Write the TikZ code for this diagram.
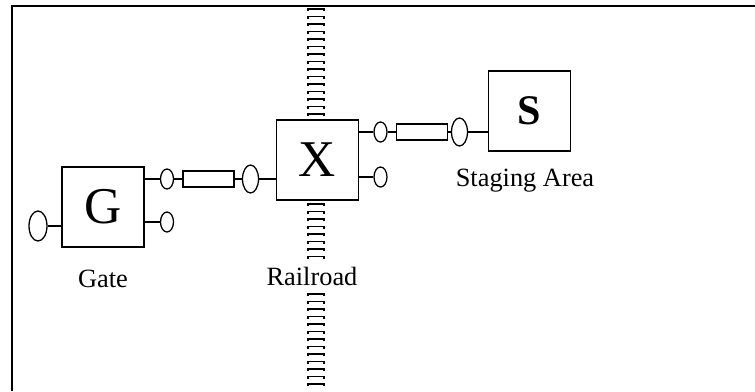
\documentclass[tikz,border=0pt]{standalone}
\usepackage{fontspec}
\setmainfont{Liberation Serif}
\usetikzlibrary{positioning, shapes.geometric, calc}

\begin{document}
\begin{tikzpicture}[
    x=0.03cm, y=-0.03cm,
    node_box/.style={rectangle, draw=black, line width=1.3pt, minimum width=2.45cm, minimum height=2.4cm, inner sep=0pt, font=\fontsize{44}{44}\selectfont},
    port_small/.style={ellipse, draw=black, line width=1.1pt, minimum width=0.39cm, minimum height=0.6cm, inner sep=0pt},
    port_big/.style={ellipse, draw=black, line width=1.1pt, minimum width=0.48cm, minimum height=0.84cm, inner sep=0pt},
    node_link/.style={rectangle, draw=black, line width=1.1pt, minimum width=1.53cm, minimum height=0.48cm, inner sep=0pt},
    node_label/.style={font=\fontsize{22.5}{22.5}\selectfont},
    wire/.style={line width=1.1pt},
    tie/.style={line width=1.2pt}
]
\useasboundingbox (0,0) rectangle (755,391);

% frame
\draw[line width=1.6pt] (12,391) -- (12,6) -- (755,6);

% railroad track
\foreach \y in {9,16.5,...,117}
    \draw[tie] (308,\y+2) -- (308,\y) -- (324,\y) -- (324,\y+2);
\foreach \y in {204,211.5,...,258}
    \draw[tie] (308,\y+2) -- (308,\y) -- (324,\y) -- (324,\y+2);
\foreach \y in {294,301.5,...,390}
    \draw[tie] (308,\y+2) -- (308,\y) -- (324,\y) -- (324,\y+2);

% blocks
\node[node_box] (G) at (103,207) {G};
\node[node_box] (X) at (317.5,160) {X};
\node[node_box, font=\bfseries\fontsize{36}{36}\selectfont] (S) at (529.5,111) {S};

\node[node_label] (gate) at (103,279) {Gate};
\node[node_label] (rail) at (312,276) {Railroad};
\node[node_label] (stage) at (525,181) {Staging Area};

% ports of G
\node[port_big, minimum width=0.54cm, minimum height=0.9cm] (gin) at (38,226) {};
\node[port_small] (gout1) at (167,179) {};
\node[port_small] (gout2) at (167,222) {};
\draw[wire] (gin.east) -- (gin.east -| G.west);
\draw[wire] (gout1.west -| G.east) -- (gout1.west);
\draw[wire] (gout2.west -| G.east) -- (gout2.west);

% link G -> X
\node[node_link] (link1) at (208.5,179) {};
\node[port_big] (xin) at (250.5,179) {};
\draw[wire] (gout1.east) -- (link1.west);
\draw[wire] (link1.east) -- (xin.west);
\draw[wire] (xin.east) -- (xin.east -| X.west);

% ports of X
\node[port_small] (xout1) at (380.5,132) {};
\node[port_small] (xout2) at (380.5,177) {};
\draw[wire] (xout1.west -| X.east) -- (xout1.west);
\draw[wire] (xout2.west -| X.east) -- (xout2.west);

% link X -> S
\node[node_link] (link2) at (422,132) {};
\node[port_big] (sin) at (459.5,132) {};
\draw[wire] (xout1.east) -- (link2.west);
\draw[wire] (link2.east) -- (sin.west);
\draw[wire] (sin.east) -- (sin.east -| S.west);
\end{tikzpicture}
\end{document}
